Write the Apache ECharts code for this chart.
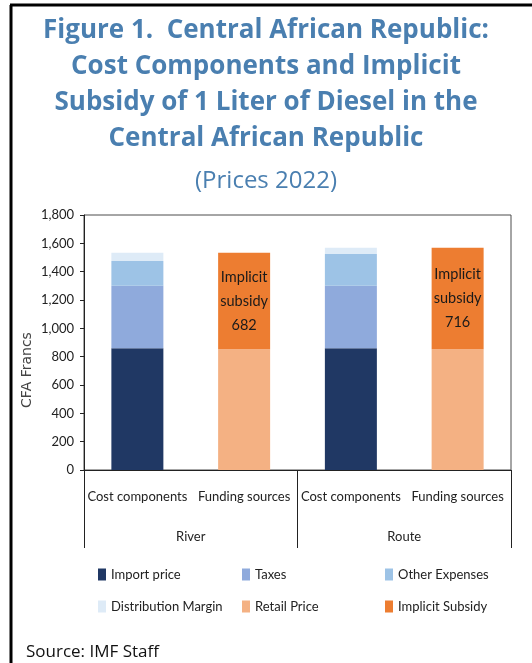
<!DOCTYPE html>
<html>
<head>
<meta charset="utf-8">
<script src="https://cdn.jsdelivr.net/npm/echarts@6/dist/echarts.min.js"></script>
<style>
  html, body { margin: 0; padding: 0; background: #fff; }
  #chart { width: 532px; height: 663px; }
</style>
</head>
<body>
<div id="chart"></div>
<script>
// categories
const categories = ['Cost components', 'Funding sources', 'Cost components', 'Funding sources']
const groups = ['River', 'Route']
const yTicks = [0, 200, 400, 600, 800, 1000, 1200, 1400, 1600, 1800]

// series values (CFA francs per liter)
const importPrice = [860, null, 860, null]
const taxes = [440, null, 440, null]
const otherExpenses = [175, null, 224, null]
const distributionMargin = [59, null, 45, null]
const retailPrice = [null, 852, null, 852]
const implicitSubsidy = [null, 682, null, 716]

const narrow = 'Lato'
const chart = echarts.init(document.getElementById('chart'), null, { renderer: 'canvas' })

function bar (name, data, color) {
  return {
    name: name,
    type: 'bar',
    stack: 'total',
    barWidth: 52,
    data: data,
    itemStyle: { color: color },
    emphasis: { disabled: true }
  }
}

const subsidy = bar('Implicit Subsidy', implicitSubsidy, '#ed7d31')
subsidy.label = {
  show: true,
  position: 'inside',
  formatter: p => 'Implicit\nsubsidy\n' + p.value,
  fontFamily: narrow,
  fontSize: 14.5,
  lineHeight: 24,
  color: '#1a1a1a'
}

const legendText = { fontFamily: narrow, fontSize: 13, color: '#222' }
function legendCol (left, names) {
  return {
    orient: 'vertical',
    left: left,
    top: 563,
    icon: 'rect',
    itemWidth: 8,
    itemHeight: 12,
    itemGap: 19,
    selectedMode: false,
    textStyle: legendText,
    data: names
  }
}

const option = {
  animation: false,
  title: [{
    text: 'Figure 1.  Central African Republic:\nCost Components and Implicit\nSubsidy of 1 Liter of Diesel in the\nCentral African Republic',
    left: 'center',
    top: 8,
    textStyle: { fontFamily: 'Open Sans', fontWeight: 'bold', fontSize: 26, lineHeight: 36, color: '#4a7fb0' }
  }, {
    text: '(Prices 2022)',
    left: 'center',
    top: 164,
    textStyle: { fontFamily: 'Open Sans', fontWeight: 'normal', fontSize: 24, color: '#4a7fb0' }
  }],
  legend: [
    legendCol(93, ['Import price', 'Distribution Margin']),
    legendCol(237, ['Taxes', 'Retail Price']),
    legendCol(380, ['Other Expenses', 'Implicit Subsidy'])
  ],
  grid: {
    left: 84, right: 21, top: 215, bottom: 193,
    show: true, borderColor: '#4d4d4d', borderWidth: 1
  },
  xAxis: [{
    type: 'category',
    data: categories,
    axisLine: { lineStyle: { color: '#222' } },
    axisTick: { show: false },
    axisLabel: { interval: 0, margin: 20, fontFamily: narrow, fontSize: 13, color: '#222' }
  }, {
    type: 'category',
    position: 'bottom',
    data: groups,
    axisLine: { show: false },
    axisTick: { show: true, length: 78, lineStyle: { color: '#222' } },
    axisLabel: { interval: 0, margin: 60, fontFamily: narrow, fontSize: 13, color: '#222' }
  }],
  yAxis: {
    type: 'value',
    min: 0,
    max: 1800,
    interval: 200,
    splitLine: { show: false },
    axisLine: { show: true, lineStyle: { color: '#222' } },
    axisTick: { show: true, length: 4, lineStyle: { color: '#222' } },
    axisLabel: {
      margin: 10,
      fontFamily: narrow,
      fontSize: 13,
      color: '#222',
      formatter: v => yTicks.includes(v) ? v.toLocaleString('en-US') : ''
    }
  },
  graphic: [
    { type: 'line', shape: { x1: 10, y1: 5, x2: 532, y2: 5 }, style: { stroke: '#000', lineWidth: 3 } },
    { type: 'line', shape: { x1: 11, y1: 5, x2: 11, y2: 663 }, style: { stroke: '#000', lineWidth: 3 } },
    {
      type: 'text', x: 27, y: 370, rotation: Math.PI / 2,
      style: { text: 'CFA Francs', font: '14px "DejaVu Sans"', fill: '#444', align: 'center', verticalAlign: 'middle' }
    },
    {
      type: 'text', x: 26, y: 652,
      style: { text: 'Source: IMF Staff', font: '17px "Open Sans"', fill: '#111', align: 'left', verticalAlign: 'middle' }
    }
  ],
  series: [
    bar('Import price', importPrice, '#203864'),
    bar('Taxes', taxes, '#8faadc'),
    bar('Other Expenses', otherExpenses, '#9dc3e6'),
    bar('Distribution Margin', distributionMargin, '#deebf7'),
    bar('Retail Price', retailPrice, '#f4b183'),
    subsidy
  ]
}

chart.setOption(option)
</script>
</body>
</html>
